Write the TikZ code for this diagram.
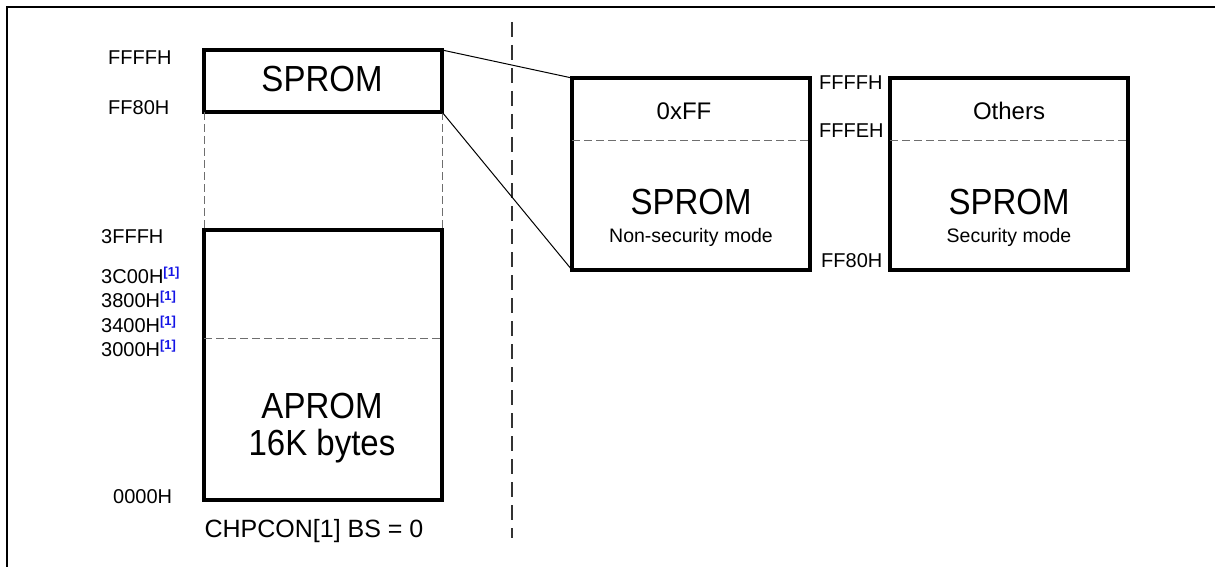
\documentclass[tikz,border=0pt]{standalone}
\usepackage{fontspec}
\setmainfont{Liberation Sans}
\definecolor{supblue}{RGB}{20,20,230}
\definecolor{dgray}{RGB}{110,110,110}
\newcommand{\sref}{\raisebox{7pt}{\fontsize{13}{13}\selectfont\bfseries\color{supblue}[1]}}
\newcommand{\bigtxt}[1]{\scalebox{1}[1.1]{#1}}
\begin{document}
\begin{tikzpicture}[x=1pt,y=-1pt,
  membox/.style={draw, line width=3.5pt, minimum width=238pt, anchor=north west, inner sep=0pt, outer sep=0pt},
  lbl/.style={anchor=base west, inner sep=0pt, font=\fontsize{20}{22}\selectfont},
  big/.style={anchor=base, inner sep=0pt, font=\fontsize{33}{38}\selectfont},
  mid/.style={anchor=base, inner sep=0pt, font=\fontsize{24}{26}\selectfont},
  small/.style={anchor=base, inner sep=0pt, font=\fontsize{19.5}{22}\selectfont},
  gdash/.style={draw=dgray, line width=1pt, dash pattern=on 8pt off 4pt},
  conn/.style={draw, line width=1pt}]
\useasboundingbox (0,0) rectangle (1215,567);
% frame
\draw[line width=2.8pt] (7,567) -- (7,7) -- (1215,7);
% divider
\coordinate (dtop) at (512,22);
\coordinate (dbot) at (512,538);
\draw[line width=1.2pt, draw=black!80, dash pattern=on 15pt off 8pt] (dtop) -- (dbot);

% left boxes
\node[membox, minimum height=62pt] (sprom) at (204,50) {};
\node[membox, minimum height=270pt] (aprom) at (204,230) {};
\draw[gdash] (sprom.south west) -- (aprom.north west);
\draw[gdash] (sprom.south east) -- (aprom.north east);
\coordinate (ad1) at (204,338);
\coordinate (ad2) at (442,338);
\draw[gdash] (ad1) -- (ad2);

\node[big] (tsprom) at (322,92) {\bigtxt{SPROM}};
\node[big] (tap1) at (322,418) {\bigtxt{APROM}};
\node[big] (tap2) at (322,455) {\bigtxt{16K bytes}};

\node[lbl] (l1) at (108,65) {FFFFH};
\node[lbl] (l2) at (108,115) {FF80H};
\node[lbl] (l3) at (101,243) {3FFFH};
\node[lbl] (l4) at (101,283) {3C00H\sref};
\node[lbl] (l5) at (101,307) {3800H\sref};
\node[lbl] (l6) at (101,332) {3400H\sref};
\node[lbl] (l7) at (101,356) {3000H\sref};
\node[lbl] (l8) at (113,503) {0000H};
\node[anchor=base, inner sep=0pt, font=\fontsize{25}{28}\selectfont] (chp) at (314,537) {CHPCON[1] BS = 0};

% right boxes
\node[membox, minimum height=192pt] (b1) at (572,78) {};
\node[membox, minimum height=192pt] (b2) at (890,78) {};
\coordinate (b1d1) at (572,141);
\coordinate (b1d2) at (810,141);
\coordinate (b2d1) at (890,141);
\coordinate (b2d2) at (1128,141);
\draw[gdash] (b1d1) -- (b1d2);
\draw[gdash] (b2d1) -- (b2d2);

\node[mid] (t0xff) at (684,120) {0xFF};
\node[big] (ts1) at (691,214) {\bigtxt{SPROM}};
\node[small] (tn1) at (691,242) {Non-security mode};
\node[mid] (toth) at (1009,120) {Others};
\node[big] (ts2) at (1009,214) {\bigtxt{SPROM}};
\node[small] (tn2) at (1009,242) {Security mode};

\node[lbl] (r1) at (819,90) {FFFFH};
\node[lbl] (r2) at (819,138) {FFFEH};
\node[lbl] (r3) at (821,267) {FF80H};

% connectors
\draw[conn] (sprom.north east) -- (b1.north west);
\draw[conn] (sprom.south east) -- (b1.south west);
\end{tikzpicture}
\end{document}
